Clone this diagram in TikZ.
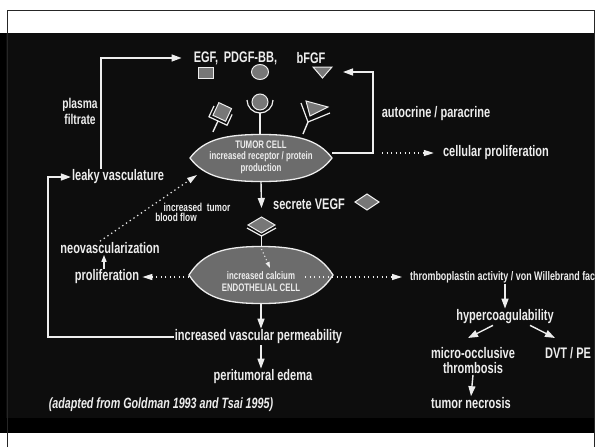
\documentclass[tikz,border=0pt]{standalone}
\usepackage{fontspec}
\setmainfont{Liberation Sans}[FakeStretch=0.72,UprightFont=* Bold,ItalicFont=* Bold Italic]
\usetikzlibrary{arrows.meta,calc,shapes.geometric}
\definecolor{bg}{HTML}{0D0D0D}
\definecolor{fg}{HTML}{EDEDED}
\definecolor{cellgray}{HTML}{6C6C6C}
\definecolor{shapegray}{HTML}{777777}
\newcommand\drawlens[4]{%
  \draw[cellbody] (#1-#3,#2) .. controls (#1-0.8*#3,#2-0.8*#4) and (#1-0.5*#3,#2-#4) .. (#1,#2-#4)
    .. controls (#1+0.5*#3,#2-#4) and (#1+0.8*#3,#2-0.8*#4) .. (#1+#3,#2)
    .. controls (#1+0.8*#3,#2+0.8*#4) and (#1+0.5*#3,#2+#4) .. (#1,#2+#4)
    .. controls (#1-0.5*#3,#2+#4) and (#1-0.8*#3,#2+0.8*#4) .. (#1-#3,#2) -- cycle;}
\begin{document}
\begin{tikzpicture}[x=1pt,y=-1pt,
  lbl/.style={text=fg, inner sep=1pt, font=\fontsize{15.3}{16}\selectfont},
  smalllbl/.style={text=fg, inner sep=1pt, align=center, font=\fontsize{10.9}{12}\selectfont},
  cellbody/.style={fill=cellgray, draw=fg, line width=1.3pt},
  cellshape/.style={shape=ellipse, draw=none, inner sep=0pt},
  shp/.style={fill=shapegray, draw=fg, line width=1pt},
  conn/.style={draw=fg, line width=1.4pt},
  arr/.style={conn, -{Triangle[length=10pt,width=7pt]}},
  sarr/.style={conn, -{Triangle[length=7pt,width=5pt]}},
  dotarr/.style={draw=fg, line width=1.2pt, dash pattern=on 1.3pt off 3.2pt, -{Triangle[length=10pt,width=6pt]}},
  sdotarr/.style={draw=fg, line width=1pt, dash pattern=on 1.2pt off 2.5pt, -{Triangle[length=6pt,width=4pt]}}]
\useasboundingbox (0,0) rectangle (596,447);
% page and slide
\fill[white] (0,0) rectangle (596,447);
\fill[bg] (0,33) rectangle (595,433);
\fill[black] (0,33) rectangle (6,433);
\fill[black] (0,418) rectangle (595,433);
\draw[line width=1.5pt, black!85] (7.5,447) -- (7.5,10.5) -- (594.5,10.5) -- (594.5,447);

% ---- tumor cell ----
\drawlens{261}{158}{71}{23.5}
\node[cellshape, minimum width=142pt, minimum height=47pt] (tumor) at (261,158) {};
\node[smalllbl, font=\fontsize{10.9}{11.5}\selectfont] (tumortext) at (261,157) {TUMOR CELL\\increased receptor / protein\\production};

% ---- endothelial cell ----
\drawlens{261}{275}{72}{28.5}
\node[cellshape, minimum width=144pt, minimum height=57pt] (endo) at (261,275) {};
\node[smalllbl, font=\fontsize{10.9}{12}\selectfont] (endotext) at (261,282) {increased calcium\\ENDOTHELIAL CELL};

% ---- growth factors ----
\node[lbl] (egf) at (206,58) {EGF,};
\node[lbl] (pdgf) at (250.5,58) {PDGF-BB,};
\node[lbl] (bfgf) at (311,58) {bFGF};
\draw[shp] (198,67) rectangle (213,78);
\draw[shp] (260,72) ellipse [x radius=8.5, y radius=7.5];
\draw[shp] (313,67) -- (332,67) -- (322.5,78) -- cycle;
\coordinate (bfgfr) at (343,72);

% ---- receptors on tumor cell ----
\begin{scope}[shift={(218,121)}, rotate=-25]
  \draw[conn] (0,0) -- (0,12);
  \draw[shp] (-7,-17) rectangle (7,-3);
  \draw[conn, line width=1.2pt] (-10,-12) -- (-10,0) -- (10,0) -- (10,-12);
\end{scope}
\draw[shp] (260,102) circle [radius=8];
\draw[conn, line width=1.2pt] (247,100) arc[start angle=180, end angle=0, radius=13];
\draw[conn] (260,113) -- (260,135);
\draw[shp] (306,101) -- (310,116) -- (328,107) -- cycle;
\draw[conn, line width=1.2pt] (301,103) -- (308,122) -- (330,113);
\draw[conn] (308,122) -- (303,134);

% ---- VEGF ----
\node[lbl] (secrete) at (309,204) {secrete VEGF};
\draw[shp] (355,202) -- (367,194) -- (379,202) -- (367,210) -- cycle;
\draw[shp] (248,225) -- (261.5,217) -- (275,225) -- (261.5,233) -- cycle;
\draw[conn, line width=1.2pt] (247,228) -- (261.5,236) -- (276,228);
\draw[conn] (261.5,236) -- (261.5,247);
\coordinate (vtip) at (261.5,208);
\draw[arr] (tumor.south) -- (vtip);

% ---- left side labels ----
\node[lbl] (leaky) at (118,177) {leaky vasculature};
\node[text=fg, inner sep=1pt, align=center, font=\fontsize{14.2}{16}\selectfont] (plasma) at (80,111) {plasma\\filtrate};
\node[lbl] (neovasc) at (110,248) {neovascularization};
\node[lbl] (prolif) at (107,277) {proliferation};
\node[text=fg, inner sep=1pt, font=\fontsize{11.5}{12}\selectfont] (bf1) at (197,207) {increased\ \ tumor};
\node[text=fg, inner sep=1pt, font=\fontsize{11.5}{12}\selectfont] (bf2) at (176,217.5) {blood flow};

% ---- right side labels ----
\node[lbl] (autocrine) at (436,114) {autocrine / paracrine};
\node[lbl] (cellprolif) at (496,153) {cellular proliferation};
\begin{scope}
  \clip (0,33) rectangle (594,433);
  \node[text=fg, inner sep=1pt, anchor=west, font=\fontsize{12.4}{13}\selectfont] (thrombo) at (409,277) {thromboplastin activity / von Willebrand factor};
\end{scope}
\node[lbl] (hyper) at (505,317) {hypercoagulability};
\node[lbl, align=center, font=\fontsize{15.3}{15}\selectfont] (micro) at (473,360.5) {micro-occlusive\\thrombosis};
\node[lbl] (dvt) at (568,353) {DVT / PE};
\node[lbl] (necrosis) at (471,403) {tumor necrosis};

% ---- bottom labels ----
\node[lbl] (perm) at (258.5,337) {increased vascular permeability};
\node[lbl] (edema) at (263,377) {peritumoral edema};
\node[text=fg, inner sep=1pt, font=\fontsize{14.9}{15}\selectfont\itshape] (adapted) at (161,405) {(adapted from Goldman 1993 and Tsai 1995)};

% ---- connectors ----
\draw[arr, shorten >=11pt] ([xshift=-17pt]leaky.north) |- (egf.west);
\coordinate (lc) at (48,337);
\draw[arr] (perm.west) -- (lc) |- (leaky.west);
\coordinate (ac) at (373,153);
\draw[arr] ([yshift=5pt]tumor.east) -- (ac) |- (bfgfr);
\coordinate (cps) at (382,153);
\draw[dotarr, shorten >=8pt] (cps) -- (cellprolif.west);
\coordinate (nvtip) at (197,175);
\draw[dotarr] ([xshift=-10pt]neovasc.north) -- (nvtip);
\draw[sarr] ([xshift=-3pt]prolif.north) -- ([xshift=-6pt]neovasc.south);
\draw[dotarr, shorten >=2pt] ([yshift=-2pt]endo.west) -- (prolif.east);
\coordinate (ia1) at (261.5,249);
\coordinate (ia2) at (270,268);
\draw[sdotarr] (ia1) -- (ia2);
\coordinate (ths) at (305,277);
\draw[dotarr, shorten >=7pt] (ths) -- (thrombo.west);
\draw[arr] (endo.south) -- (endo.south |- perm.north);
\draw[arr] (endo.south |- perm.south) -- (endo.south |- edema.north);
\draw[arr] (hyper.north |- thrombo.south) -- (hyper.north);
\coordinate (hmtip) at (468,338);
\coordinate (hdtip) at (555,338);
\draw[arr] ([xshift=-12pt]hyper.south) -- (hmtip);
\draw[arr] ([xshift=25pt]hyper.south) -- (hdtip);
\draw[arr] (micro.south) -- (necrosis.north);
\end{tikzpicture}
\end{document}
